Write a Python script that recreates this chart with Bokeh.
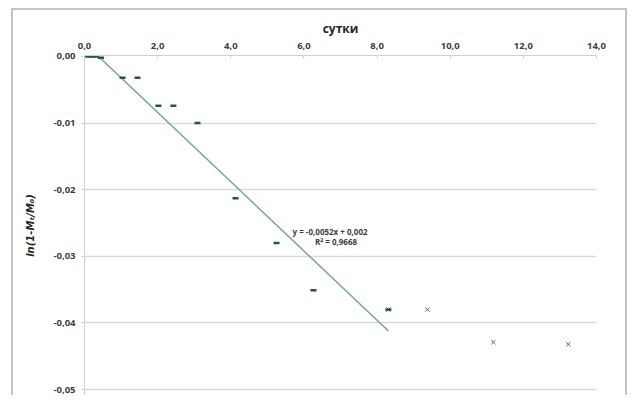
from bokeh.plotting import figure
from bokeh.models import FixedTicker, CustomJSTickFormatter, Label, Range1d
from bokeh.embed import file_html
from bokeh.resources import INLINE

# data: fitted series (dash markers)
x_fit = [0.1, 0.2, 0.3, 0.45, 1.04, 1.45, 2.02, 2.43, 3.09, 4.13, 5.25, 6.26, 8.31]
y_fit = [0.0, 0.0, 0.0, -0.0002, -0.0032, -0.0032, -0.0074, -0.0074, -0.0100, -0.0213, -0.0280, -0.0351, -0.0380]
# later series (x markers)
x_late = [8.31, 9.38, 11.18, 13.23]
y_late = [-0.0380, -0.0380, -0.0429, -0.0432]
# linear trendline
slope = -0.0052
intercept = 0.002
r2 = "0,9668"
x_ticks = [0, 2, 4, 6, 8, 10, 12, 14]
y_ticks = [0.0, -0.01, -0.02, -0.03, -0.04, -0.05]

p = figure(width=629, height=395, output_backend="svg", toolbar_location=None,
           x_range=Range1d(0, 14), y_range=Range1d(-0.0509, 0.00015),
           x_axis_location="above",
           min_border_left=84, min_border_right=33, min_border_top=55, min_border_bottom=0)
p.outline_line_color = None
p.background_fill_color = None
p.border_fill_color = None
# outer chart border (left, top, right edges) drawn as inset shadows behind the transparent canvas
p.styles = {
    "background-color": "white",
    "box-shadow": ("inset 11px 8px 0 0 white, inset -2px 0 0 0 white, "
                   "inset 13px 10px 0 0 #c4c4c4, inset -4px 0 0 0 #c4c4c4"),
}

# axes
xa = p.xaxis[0]
xa.ticker = FixedTicker(ticks=x_ticks)
xa.formatter = CustomJSTickFormatter(code="return tick.toFixed(1).replace('.', ',');")
xa.axis_label = "сутки"
xa.axis_label_text_font = "Open Sans"
xa.axis_label_text_font_style = "bold"
xa.axis_label_text_font_size = "12px"
xa.axis_label_text_color = "#262626"
xa.axis_label_standoff = 3
xa.major_label_text_font = "Open Sans"
xa.major_label_text_font_style = "bold"
xa.major_label_text_font_size = "9.5px"
xa.major_label_text_color = "#404040"
xa.axis_line_color = "#d0d0d0"
xa.major_tick_line_color = "#d0d0d0"
xa.major_tick_out = 0
xa.major_tick_in = 3
xa.minor_tick_line_color = None
xa.major_label_standoff = 7

ya = p.yaxis[0]
ya.ticker = FixedTicker(ticks=y_ticks)
ya.formatter = CustomJSTickFormatter(code="return tick.toFixed(2).replace('.', ',').replace('-0,00','0,00');")
ya.axis_label = "ln(1-Mₜ/M₀)"
ya.axis_label_text_font = "DejaVu Sans"
ya.axis_label_text_font_style = "bold italic"
ya.axis_label_text_font_size = "10px"
ya.axis_label_text_color = "#262626"
ya.axis_label_standoff = 14
ya.major_label_text_font = "Open Sans"
ya.major_label_text_font_style = "bold"
ya.major_label_text_font_size = "9.5px"
ya.major_label_text_color = "#404040"
ya.axis_line_color = "#d0d0d0"
ya.major_tick_line_color = "#d0d0d0"
ya.major_tick_out = 3
ya.major_tick_in = 0
ya.minor_tick_line_color = None
ya.major_label_standoff = 6

p.xgrid.grid_line_color = None
p.ygrid.ticker = FixedTicker(ticks=y_ticks[1:])
p.ygrid.grid_line_color = "#d9d9d9"
p.ygrid.grid_line_width = 1.5

# trendline
x_tr = [0.0, max(x_fit)]
y_tr = [slope * v + intercept for v in x_tr]
p.line(x_tr, y_tr, line_color="#6fab8f", line_width=1.5)

p.scatter(x_late, y_late, marker="x", size=6, line_color="#606060", line_width=1)
p.scatter(x_fit, y_fit, marker="dash", size=6, line_color="#1f5a3c", line_width=2.5)

eq = "y = " + f"{slope:.4f}".replace(".", ",") + "x + " + f"{intercept:.3f}".replace(".", ",")
p.add_layout(Label(x=5.69, y=-0.0263, text=eq, text_font="Open Sans", text_font_style="bold",
                   text_font_size="8px", text_color="#404040", text_baseline="middle"))
p.add_layout(Label(x=6.3, y=-0.0278, text="R² = " + r2, text_font="Open Sans", text_font_style="bold",
                   text_font_size="8px", text_color="#404040", text_baseline="middle"))

open("out.html", "w").write(file_html(p, INLINE))
